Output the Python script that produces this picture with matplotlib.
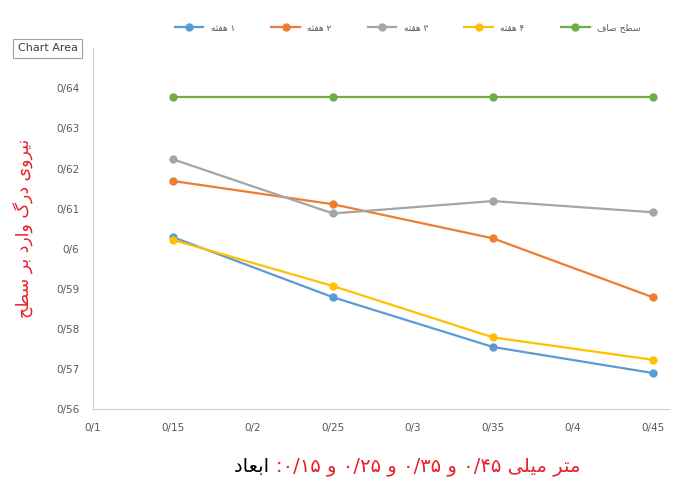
import numpy as np
import matplotlib
matplotlib.use('Agg')
import matplotlib.pyplot as plt
from matplotlib.ticker import FuncFormatter

# data
sizes = [0.15, 0.25, 0.35, 0.45]
week1 = [0.6029, 0.5879, 0.5755, 0.5690]
week2 = [0.6169, 0.6111, 0.6026, 0.5879]
week3 = [0.6223, 0.6088, 0.6119, 0.6091]
week4 = [0.6022, 0.5907, 0.5779, 0.5723]
smooth = [0.6378, 0.6378, 0.6378, 0.6378]

x_ticks = [0.1, 0.15, 0.2, 0.25, 0.3, 0.35, 0.4, 0.45]
y_ticks = [0.56, 0.57, 0.58, 0.59, 0.60, 0.61, 0.62, 0.63, 0.64]

# simple persian shaping (presentation forms); matplotlib draws left to right
FORMS = {
    'ا': ('\uFE8D', '\uFE8E', None, None),
    'ب': ('\uFE8F', '\uFE90', '\uFE91', '\uFE92'),
    'ت': ('\uFE95', '\uFE96', '\uFE97', '\uFE98'),
    'ح': ('\uFEA1', '\uFEA2', '\uFEA3', '\uFEA4'),
    'د': ('\uFEA9', '\uFEAA', None, None),
    'ر': ('\uFEAD', '\uFEAE', None, None),
    'س': ('\uFEB1', '\uFEB2', '\uFEB3', '\uFEB4'),
    'ص': ('\uFEB9', '\uFEBA', '\uFEBB', '\uFEBC'),
    'ط': ('\uFEC1', '\uFEC2', '\uFEC3', '\uFEC4'),
    'ع': ('\uFEC9', '\uFECA', '\uFECB', '\uFECC'),
    'ف': ('\uFED1', '\uFED2', '\uFED3', '\uFED4'),
    'ل': ('\uFEDD', '\uFEDE', '\uFEDF', '\uFEE0'),
    'م': ('\uFEE1', '\uFEE2', '\uFEE3', '\uFEE4'),
    'ن': ('\uFEE5', '\uFEE6', '\uFEE7', '\uFEE8'),
    'ه': ('\uFEE9', '\uFEEA', '\uFEEB', '\uFEEC'),
    'و': ('\uFEED', '\uFEEE', None, None),
    'ی': ('\uFBFC', '\uFBFD', '\uFBFE', '\uFBFF'),
    'گ': ('\uFB92', '\uFB93', '\uFB94', '\uFB95'),
}


def shape(text):
    out = []
    for i, c in enumerate(text):
        if c not in FORMS:
            out.append(c)
            continue
        prev = text[i - 1] if i > 0 else ''
        nxt = text[i + 1] if i + 1 < len(text) else ''
        join_prev = prev in FORMS and FORMS[prev][2] is not None
        join_next = FORMS[c][2] is not None and nxt in FORMS
        f = FORMS[c]
        if join_prev and join_next:
            out.append(f[3])
        elif join_prev:
            out.append(f[1])
        elif join_next:
            out.append(f[2])
        else:
            out.append(f[0])
    return ''.join(out[::-1])


def fmt(v, pos):
    s = ('%.2f' % v).rstrip('0').rstrip('.')
    return s.replace('.', '/')


labels = [shape('هفته') + ' ۱', shape('هفته') + ' ۲', shape('هفته') + ' ۳',
          shape('هفته') + ' ۴', shape('سطح صاف')]
series = [week1, week2, week3, week4, smooth]
colors = ['#5B9BD5', '#ED7D31', '#A5A5A5', '#FFC000', '#70AD47']

fig = plt.figure(figsize=(6.79, 4.83), dpi=100)
ax = fig.add_axes([0.137, 0.153, 0.848, 0.747])

for vals, c, lab in zip(series, colors, labels):
    ax.plot(sizes, vals, color=c, lw=1.6, marker='o', ms=5, label=lab)

ax.set_xlim(0.1, 0.46)
ax.set_ylim(0.56, 0.65)
ax.set_xticks(x_ticks)
ax.set_yticks(y_ticks)
ax.xaxis.set_major_formatter(FuncFormatter(fmt))
ax.yaxis.set_major_formatter(FuncFormatter(fmt))
ax.tick_params(length=0, labelsize=7.5, labelcolor='#595959', pad=10)
for s in ['top', 'right']:
    ax.spines[s].set_visible(False)
for s in ['left', 'bottom']:
    ax.spines[s].set_color('#d0d0d0')

fig.legend(loc='center', bbox_to_anchor=(0.6, 0.942), ncol=5, frameon=False,
           fontsize=6.5, handlelength=3.2, columnspacing=4.0,
           labelcolor='#595959')

ax.set_ylabel(shape('نیروی درگ وارد بر سطح'), color='#e8202a', fontsize=12.5,
              labelpad=16)

t = fig.text(0.345, 0.022, shape('ابعاد') + ' ', color='black', fontsize=14)
red = (':۰/۱۵ ' + shape('و') + ' ۰/۲۵ ' + shape('و') + ' ۰/۳۵ ' + shape('و') +
       ' ۰/۴۵ ' + shape('میلی') + ' ' + shape('متر'))
ax.annotate(red, xy=(1, 0), xycoords=t, va='bottom', ha='left',
            color='#e8202a', fontsize=14)

fig.text(0.07, 0.9, 'Chart Area', fontsize=8, color='#404040',
         ha='center', va='center',
         bbox=dict(boxstyle='square,pad=0.4', fc='white', ec='#a0a0a0', lw=0.8))

fig.savefig('out.png', dpi=100)
